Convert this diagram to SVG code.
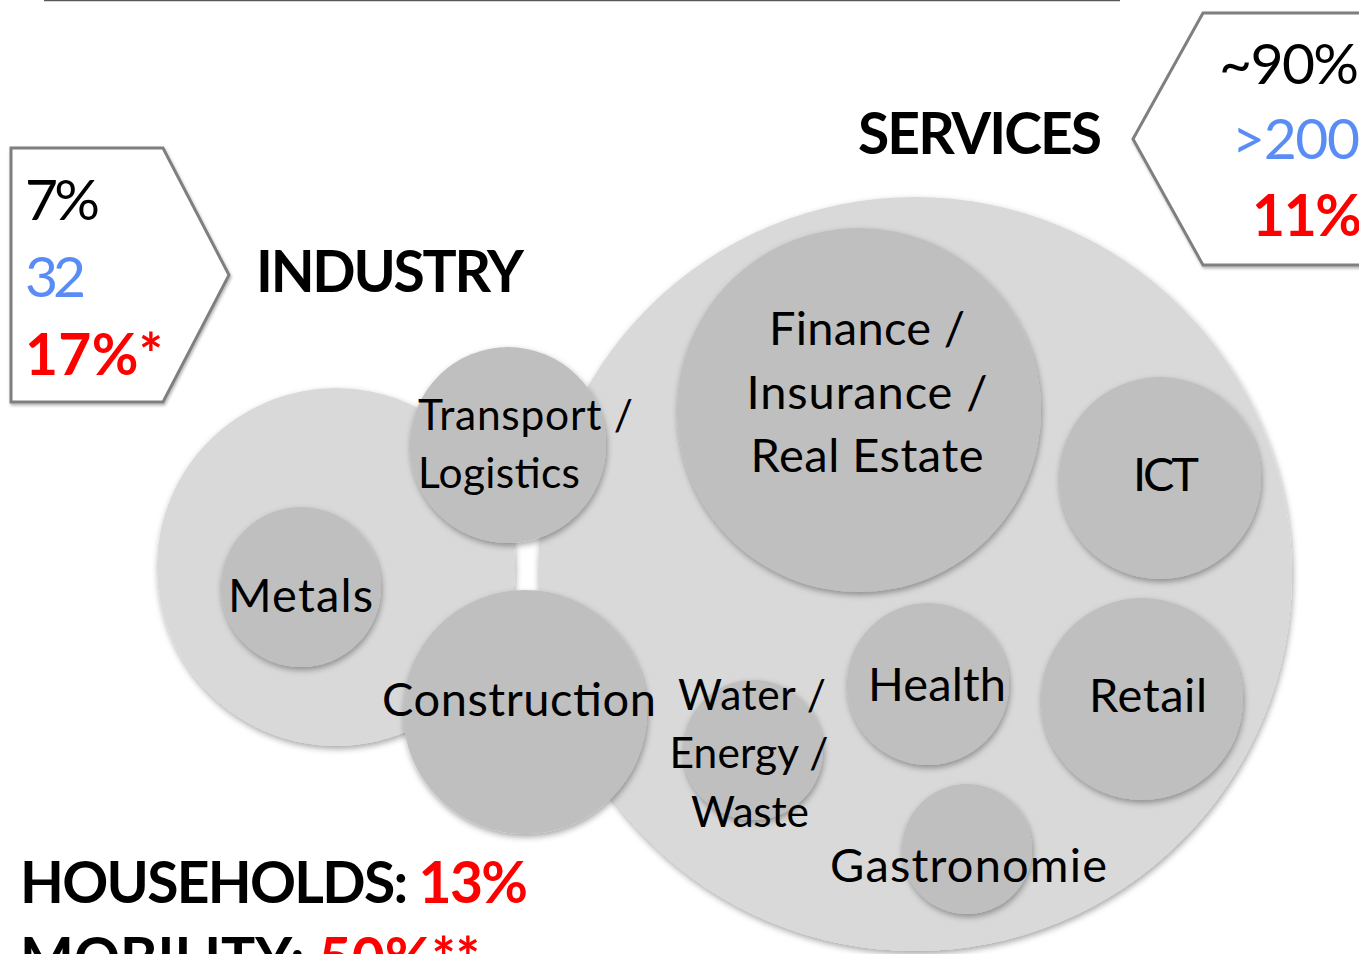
<svg xmlns="http://www.w3.org/2000/svg" width="1359" height="954" viewBox="0 0 1359 954">
<defs>
<filter id="sh" x="-20%" y="-20%" width="140%" height="140%">
<feDropShadow dx="1" dy="3" stdDeviation="3" flood-color="#000" flood-opacity="0.35"/>
</filter>
<filter id="shb" x="-10%" y="-10%" width="120%" height="120%">
<feDropShadow dx="1" dy="2" stdDeviation="1.5" flood-color="#000" flood-opacity="0.3"/>
</filter>
</defs>
<style>
.t{font-family:Lato,"Open Sans",sans-serif;fill:#000}
.m{text-anchor:middle}
.e{text-anchor:end}
.n{font-size:47px}
.s{font-size:42.5px}
.h{font-size:57px;font-weight:700}
.v{font-size:57px}
.red{fill:#ff0000}
.blue{fill:#5a8cf6}
.outer{fill:#d9d9d9;filter:url(#sh)}
.inner{fill:#bfbfbf;filter:url(#sh)}
.box{fill:#ffffff;stroke:#7f7f7f;stroke-width:3;filter:url(#shb)}
</style>
<rect x="0" y="0" width="1359" height="954" fill="#ffffff"/>
<line id="top-rule" x1="44" y1="0.5" x2="1120" y2="0.5" stroke="#595959" stroke-width="1.5"/>

<g id="industry-box">
<polygon class="box" points="11,148 163,148 229,275 163,402 11,402"/>
<text class="t v" x="25" y="220" textLength="75">7%</text>
<text class="t v blue" x="25" y="297" textLength="61">32</text>
<text class="t h red" x="25" y="375" textLength="138">17%*</text>
</g>

<g id="services-box">
<polygon class="box" points="1203,13 1375,13 1375,265 1203,265 1133,139"/>
<text class="t v e" x="1359" y="84" textLength="140">~90%</text>
<text class="t v blue e" x="1360" y="159" textLength="128">&gt;200</text>
<text class="t h red e" x="1362" y="236" textLength="110">11%</text>
</g>

<g id="label-services"><text class="t h" x="858" y="154" textLength="244">SERVICES</text></g>
<g id="label-industry"><text class="t h" x="256" y="292" textLength="268">INDUSTRY</text></g>

<g id="industry"><circle class="outer" cx="336" cy="567" r="179"/></g>
<g id="services"><circle class="outer" cx="915" cy="574" r="377"/></g>

<g id="node-transport">
<circle class="inner" cx="508" cy="445" r="98"/>
<text class="t s" x="418" y="430" textLength="215">Transport /</text>
<text class="t s" x="418" y="488" textLength="162">Logistics</text>
</g>
<g id="node-metals">
<circle class="inner" cx="301" cy="587" r="80"/>
<text class="t n" x="228" y="612" textLength="145">Metals</text>
</g>
<g id="node-construction">
<circle class="inner" cx="525" cy="712" r="122"/>
<text class="t n" x="382" y="716" textLength="274">Construction</text>
</g>
<g id="node-finance">
<circle class="inner" cx="859" cy="410" r="182"/>
<text class="t n m" x="867" y="345" textLength="196">Finance /</text>
<text class="t n m" x="867" y="409" textLength="241">Insurance /</text>
<text class="t n m" x="867" y="472" textLength="233">Real Estate</text>
</g>
<g id="node-ict">
<circle class="inner" cx="1160" cy="478" r="101"/>
<text class="t n" x="1133" y="491" textLength="66">ICT</text>
</g>
<g id="node-retail">
<circle class="inner" cx="1142" cy="699" r="101"/>
<text class="t n" x="1089" y="712" textLength="118">Retail</text>
</g>
<g id="node-health">
<circle class="inner" cx="928" cy="684" r="81"/>
<text class="t n" x="868" y="701" textLength="138">Health</text>
</g>
<g id="node-water">
<circle class="inner" cx="753" cy="750" r="70"/>
<text class="t s m" x="752" y="710" textLength="148">Water /</text>
<text class="t s m" x="749" y="768" textLength="159">Energy /</text>
<text class="t s m" x="750" y="827" textLength="118">Waste</text>
</g>
<g id="node-gastronomie">
<circle class="inner" cx="967" cy="849" r="65"/>
<text class="t n" x="830" y="882" textLength="277">Gastronomie</text>
</g>

<g id="connectors"></g>

<g id="footer">
<text class="t h" x="20" y="903" textLength="508">HOUSEHOLDS: <tspan class="red">13%</tspan></text>
<text class="t h" x="20" y="979" textLength="460">MOBILITY: <tspan class="red">50%**</tspan></text>
</g>
</svg>
